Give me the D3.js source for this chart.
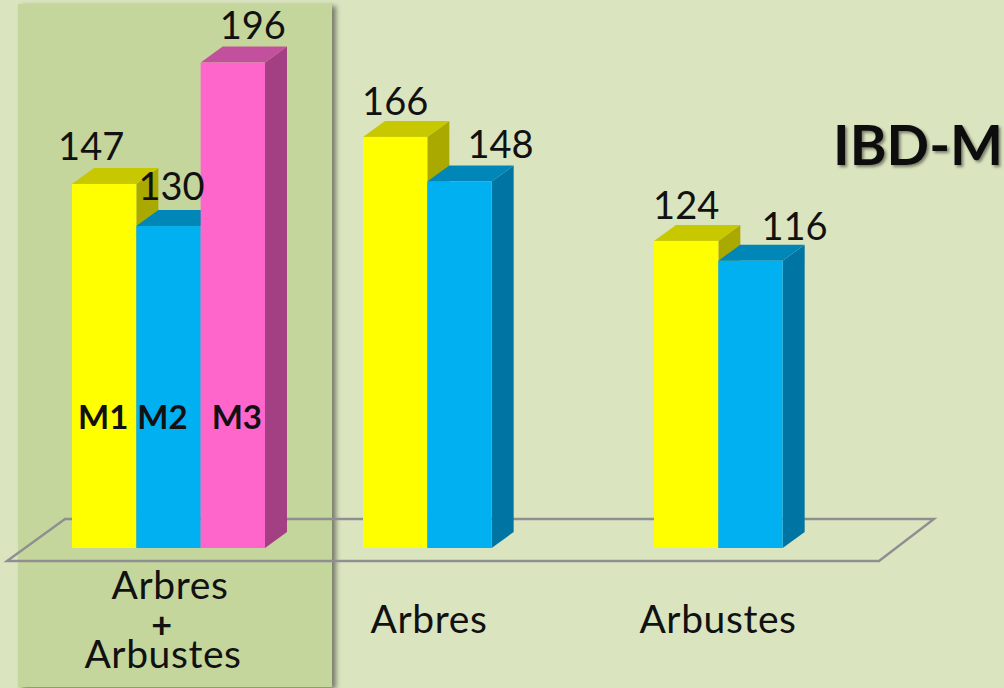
<!DOCTYPE html>
<html><head><meta charset="utf-8">
<script src="https://cdn.jsdelivr.net/npm/d3@7"></script>
<style>html,body{margin:0;padding:0;background:#dae4bf;overflow:hidden}svg{display:block}text{font-family:Lato,"Open Sans",sans-serif;fill:#111}</style>
</head><body><div id="c"></div>
<script>
const categories = ["Arbres + Arbustes", "Arbres", "Arbustes"];
const seriesNames = ["M1", "M2", "M3"];
const valuesM1 = [147, 166, 124];
const valuesM2 = [130, 148, 116];
const valuesM3 = [196, null, null];
const title = "IBD-M";

const W = 1004, H = 688;
const svg = d3.select("#c").append("svg").attr("width", W).attr("height", H);
const defs = svg.append("defs");
const sh = defs.append("filter").attr("id","panelShadow").attr("x","-10%").attr("y","-5%").attr("width","125%").attr("height","110%");
sh.append("feDropShadow").attr("dx",4).attr("dy",2).attr("stdDeviation",2.5).attr("flood-color","#000").attr("flood-opacity",0.45);
const ts = defs.append("filter").attr("id","titleShadow").attr("x","-10%").attr("y","-20%").attr("width","120%").attr("height","150%");
ts.append("feDropShadow").attr("dx",2).attr("dy",2).attr("stdDeviation",1.5).attr("flood-color","#000").attr("flood-opacity",0.45);

svg.append("rect").attr("width",W).attr("height",H).attr("fill","#dae4bf");
svg.append("rect").attr("x",18).attr("y",4).attr("width",314).attr("height",683)
  .attr("fill","#c4d69b").attr("filter","url(#panelShadow)");

const x = d3.scaleBand().domain(categories).range([72, 847]).paddingInner(98/291).paddingOuter(0);
const xs = d3.scaleBand().domain(seriesNames).range([0, x.bandwidth()]);
const y = d3.scaleLinear().domain([0, 196]).range([548, 62.6]);
const depth = {dx: 22, dy: -16};

// floor
const floorY = y(0);
svg.append("path")
  .attr("d", d3.line()([[7,floorY+13],[879,floorY+13],[934,floorY-29],[65,floorY-29]]) + "Z")
  .attr("fill","none").attr("stroke","#8f8f92").attr("stroke-width",2.4);

const colors = {
  M1: {front:"#ffff00", top:"#c8c800", side:"#a9a900"},
  M2: {front:"#00b0f0", top:"#0087b7", side:"#0074a2"},
  M3: {front:"#ff66cc", top:"#c3509c", side:"#a34083"}
};
const rows = [];
categories.forEach((c,i)=>{
  [valuesM1,valuesM2,valuesM3].forEach((vals,j)=>{
    if (vals[i] != null) rows.push({cat:c, s:seriesNames[j], v:vals[i]});
  });
});
const line = d3.line();
const bars = svg.append("g").selectAll("g").data(rows).join("g");
bars.each(function(d){
  const g = d3.select(this);
  const x0 = x(d.cat)+xs(d.s), x1 = x0+xs.bandwidth(), t = y(d.v), b = y(0);
  const dx = depth.dx, dy = depth.dy, col = colors[d.s];
  g.append("path").attr("d", line([[x1,t],[x1+dx,t+dy],[x1+dx,b+dy],[x1,b]])+"Z").attr("fill",col.side);
  g.append("path").attr("d", line([[x0,t],[x0+dx,t+dy],[x1+dx,t+dy],[x1,t]])+"Z").attr("fill",col.top);
  g.append("rect").attr("x",x0).attr("y",t).attr("width",x1-x0).attr("height",b-t).attr("fill",col.front);
});

// value labels: layout nudges relative to each bar's centre and top
const nudge = {
  "Arbres + Arbustes|M1":[-13,-24], "Arbres + Arbustes|M2":[3,-26], "Arbres + Arbustes|M3":[20,-24],
  "Arbres|M1":[0,-22], "Arbres|M2":[41,-23],
  "Arbustes|M1":[0,-22], "Arbustes|M2":[44,-21]
};
svg.append("g").selectAll("text").data(rows).join("text")
  .attr("x", d=>x(d.cat)+xs(d.s)+xs.bandwidth()/2+nudge[d.cat+"|"+d.s][0])
  .attr("y", d=>y(d.v)+nudge[d.cat+"|"+d.s][1])
  .attr("text-anchor","middle").attr("font-size",38).text(d=>d.v);

// series names inside first group
const seriesNudge = {M1:-1, M2:-6, M3:4};
svg.append("g").selectAll("text").data(seriesNames).join("text")
  .attr("x", s=>x(categories[0])+xs(s)+xs.bandwidth()/2+seriesNudge[s])
  .attr("y", 429).attr("text-anchor","middle").attr("font-size",33).attr("font-weight",700).text(s=>s);

// category labels
const lab = svg.append("g").attr("text-anchor","middle").attr("font-size",39).attr("letter-spacing",0.6);
lab.append("text").attr("x",170).attr("y",599).text("Arbres");
lab.append("text").attr("x",162).attr("y",638).attr("font-weight",700).attr("font-size",36).text("+");
lab.append("text").attr("x",163).attr("y",668).text("Arbustes");
lab.append("text").attr("x",429).attr("y",633).text(categories[1]);
lab.append("text").attr("x",718).attr("y",633).text(categories[2]);

svg.append("text").attr("x",1003).attr("y",165).attr("text-anchor","end")
  .attr("font-size",56).attr("font-weight",700).attr("filter","url(#titleShadow)").text(title);
</script></body></html>
